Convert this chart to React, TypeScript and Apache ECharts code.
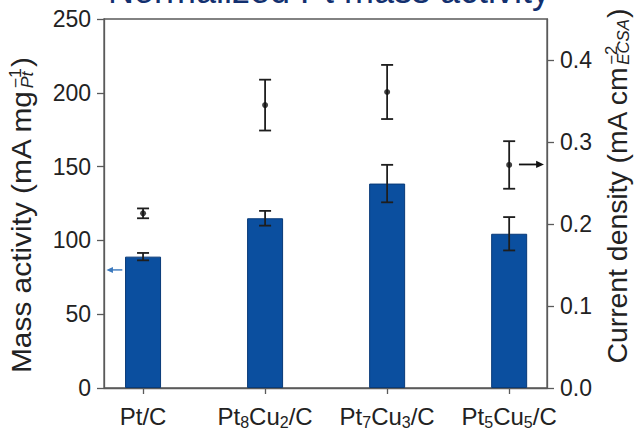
import React, { useEffect, useRef } from 'react';
import * as echarts from 'echarts';

const categories = ['Pt/C', 'Pt8Cu2/C', 'Pt7Cu3/C', 'Pt5Cu5/C'];
const categoryPositions = [0, 1, 2, 3];
const massActivity = [89, 115, 138.5, 104.5];
const massActivityErr = [2.5, 5, 12.7, 11.3];
const currentDensity = [0.213, 0.345, 0.361, 0.272];
const currentDensityErr = [0.006, 0.031, 0.033, 0.029];
const leftTicks = [0, 50, 100, 150, 200, 250];
const rightTicks = [0, 0.1, 0.2, 0.3, 0.4];
// arrows: [xStart, xEnd, y]
const leftArrow = [[-0.17, -0.3, 80]];
const rightArrow = [[3.08, 3.285, 0.2726]];

const FONT = '"Liberation Sans", Arial, Helvetica, sans-serif';
const TEXT = '#222222';
const AXIS = '#5a5a5a';
const BAR = '#0b4f9f';

function measure(text: string, size: number, italic = false): number {
  const c = document.createElement('canvas');
  const ctx = c.getContext('2d')!;
  ctx.font = `${italic ? 'italic ' : ''}${size}px ${FONT}`;
  return ctx.measureText(text).width;
}

function axisTitle(cx: number, cy: number, span: number, main: string, sup: string, sub: string, close: string, size: number, small: number, supDy: number, subDy: number) {
  const w1 = measure(main, size);
  const ws = measure(sup, small);
  const wb = measure(sub, small, true);
  const w2 = measure(close, size);
  const total = w1 + Math.max(ws, wb) + 2 + w2;
  const x0 = -total / 2;
  const sc = span / total;
  const base = { fontFamily: FONT, fill: TEXT, verticalAlign: 'middle', align: 'left' };
  return {
    type: 'group',
    x: cx,
    y: cy,
    rotation: Math.PI / 2,
    scaleX: sc,
    scaleY: 1,
    silent: true,
    children: [
      { type: 'text', x: x0, y: 0, style: { ...base, text: main, fontSize: size } },
      { type: 'text', x: x0 + w1 + 1, y: supDy, style: { ...base, text: sup, fontSize: small } },
      { type: 'text', x: x0 + w1 + 1, y: subDy, style: { ...base, text: sub, fontSize: small, fontStyle: 'italic' } },
      { type: 'text', x: x0 + w1 + Math.max(ws, wb) + 2, y: 0, style: { ...base, text: close, fontSize: size } },
    ],
  };
}

function catLabel(v: number): string {
  const i = Math.round(v);
  const name = categories[i];
  if (name === undefined) return '';
  return name.replace(/(\d)/g, '{s|$1}');
}

function errorRender(params: any, api: any) {
  const x = api.value(0);
  const y = api.value(1);
  const e = api.value(2);
  const top = api.coord([x, y + e]);
  const bot = api.coord([x, y - e]);
  const hw = 6;
  const st = { stroke: '#1e1e1e', lineWidth: 1.8 };
  return {
    type: 'group',
    children: [
      { type: 'line', shape: { x1: top[0], y1: top[1], x2: bot[0], y2: bot[1] }, style: st },
      { type: 'line', shape: { x1: top[0] - hw, y1: top[1], x2: top[0] + hw, y2: top[1] }, style: st },
      { type: 'line', shape: { x1: bot[0] - hw, y1: bot[1], x2: bot[0] + hw, y2: bot[1] }, style: st },
    ],
  };
}

function arrowRender(color: string, lw: number, head: number) {
  return (params: any, api: any) => {
    const a = api.coord([api.value(0), api.value(2)]);
    const b = api.coord([api.value(1), api.value(2)]);
    const dir = b[0] > a[0] ? 1 : -1;
    return {
      type: 'group',
      children: [
        { type: 'line', shape: { x1: a[0], y1: a[1], x2: b[0] - dir * head, y2: b[1] }, style: { stroke: color, lineWidth: lw } },
        {
          type: 'polygon',
          shape: { points: [[b[0], b[1]], [b[0] - dir * head * 1.3, b[1] - head * 0.6], [b[0] - dir * head * 1.3, b[1] + head * 0.6]] },
          style: { fill: color },
        },
      ],
    };
  };
}

export default function App() {
  const ref = useRef<HTMLDivElement>(null);
  useEffect(() => {
    if (!ref.current) return;
    const chart = echarts.init(ref.current, null, { renderer: 'svg' });
    const barData = categoryPositions.map((x, i) => [x, massActivity[i]]);
    const barErr = categoryPositions.map((x, i) => [x, massActivity[i], massActivityErr[i]]);
    const ptData = categoryPositions.map((x, i) => [x, currentDensity[i]]);
    const ptErr = categoryPositions.map((x, i) => [x, currentDensity[i], currentDensityErr[i]]);

    chart.setOption({
      animation: false,
      backgroundColor: '#ffffff',
      grid: { left: 104, right: 89, top: 19, bottom: 38, show: true, borderColor: AXIS, borderWidth: 1.3, backgroundColor: 'transparent' },
      xAxis: {
        type: 'value',
        min: -0.32,
        max: 3.31,
        splitLine: { show: false },
        axisLine: { show: true, onZero: false, lineStyle: { color: AXIS, width: 1.3 } },
        axisTick: { show: true, customValues: categoryPositions, length: 6, lineStyle: { color: AXIS, width: 1.3 } },
        axisLabel: {
          customValues: categoryPositions,
          formatter: (v: number) => catLabel(v),
          color: TEXT,
          fontFamily: FONT,
          fontSize: 24,
          lineHeight: 27,
          margin: 15,
          rich: { s: { fontSize: 16, lineHeight: 16, verticalAlign: 'bottom', color: TEXT, fontFamily: FONT } },
        },
      },
      yAxis: [
        {
          type: 'value',
          min: 0,
          max: 250,
          interval: 50,
          position: 'left',
          splitLine: { show: false },
          axisLine: { show: true, onZero: false, lineStyle: { color: AXIS, width: 1.3 } },
          axisTick: { show: true, customValues: leftTicks, length: 7, lineStyle: { color: AXIS, width: 1.3 } },
          axisLabel: { customValues: leftTicks, color: TEXT, fontFamily: FONT, fontSize: 23, margin: 13 },
        },
        {
          type: 'value',
          min: 0,
          max: 0.45,
          position: 'right',
          splitLine: { show: false },
          axisLine: { show: true, onZero: false, lineStyle: { color: AXIS, width: 1.3 } },
          axisTick: { show: true, customValues: rightTicks, length: 7, lineStyle: { color: AXIS, width: 1.3 } },
          axisLabel: { customValues: rightTicks, formatter: (v: number) => v.toFixed(1), color: TEXT, fontFamily: FONT, fontSize: 23, margin: 13 },
        },
      ],
      series: [
        {
          type: 'bar',
          yAxisIndex: 0,
          data: barData,
          barWidth: 36,
          itemStyle: { color: BAR, borderColor: '#083a78', borderWidth: 1 },
        },
        { type: 'custom', yAxisIndex: 0, data: barErr, renderItem: errorRender, encode: { x: 0, y: 1 }, z: 5 },
        { type: 'custom', yAxisIndex: 1, data: ptErr, renderItem: errorRender, encode: { x: 0, y: 1 }, z: 5 },
        { type: 'scatter', yAxisIndex: 1, data: ptData, symbolSize: 6, itemStyle: { color: '#111' }, z: 6 },
        { type: 'custom', yAxisIndex: 0, data: leftArrow, renderItem: arrowRender('#3a78bd', 1.4, 5), encode: { x: [0, 1], y: 2 }, z: 6 },
        { type: 'custom', yAxisIndex: 1, data: rightArrow, renderItem: arrowRender('#111', 1.8, 6), encode: { x: [0, 1], y: 2 }, z: 6 },
      ],
      graphic: [
        {
          type: 'text',
          x: 329,
          y: -10,
          silent: true,
          style: { text: 'Normalized Pt mass activity', fontFamily: FONT, fontSize: 36, fill: '#12306f', align: 'center', verticalAlign: 'middle' },
        },
        axisTitle(22, 215, 316, 'Mass activity (mA mg', '\u22121', 'Pt', ')', 27, 16, -6, 6),
        axisTitle(618, 186, 355, 'Current density (mA cm', '\u22122', 'ECSA', ')', 27, 16, -7, 5),
      ],
    });
    return () => chart.dispose();
  }, []);
  return <div ref={ref} style={{ width: 636, height: 430, position: 'absolute', left: 0, top: 0 }} />;
}
